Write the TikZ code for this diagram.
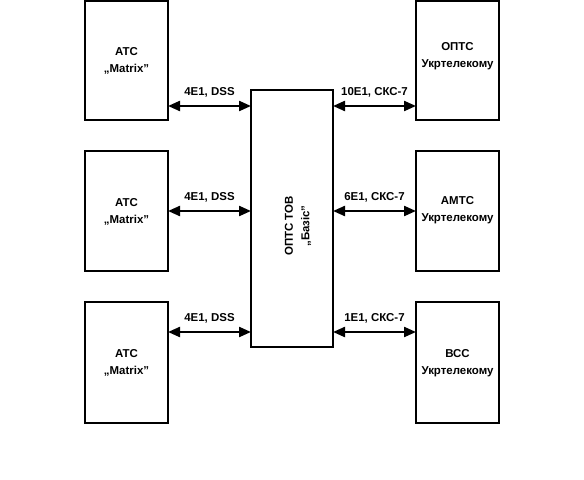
\documentclass[tikz,border=0pt]{standalone}
\usepackage{fontspec}
\setmainfont{Liberation Sans}
\usetikzlibrary{arrows.meta}
\begin{document}
\begin{tikzpicture}[x=1bp,y=-1bp,
  blk/.style={draw, line width=2bp, inner sep=0pt},
  txt/.style={font=\fontsize{11.5}{16.5}\selectfont\bfseries, align=center},
  link/.style={line width=2.2bp, {Triangle[length=12bp,width=10bp]}-{Triangle[length=12bp,width=10bp]}},
  lbl/.style={font=\fontsize{11.5}{13}\selectfont\bfseries, above=4bp}]
\useasboundingbox (0,0) rectangle (584,480);
% left boxes
\draw[blk] (85,1) rectangle (168,120);
\coordinate (L1) at (168,106);
\draw[blk] (85,151) rectangle (168,271);
\coordinate (L2) at (168,211);
\draw[blk] (85,302) rectangle (168,423);
\coordinate (L3) at (168,332);
\node[txt] (t1) at (126.5,61) {АТС\\„Matrix”};
\node[txt] (t2) at (126.5,212) {АТС\\„Matrix”};
\node[txt] (t3) at (126.5,363) {АТС\\„Matrix”};
% right boxes
\draw[blk] (416,1) rectangle (499,120);
\coordinate (R1) at (416,106);
\draw[blk] (416,151) rectangle (499,271);
\coordinate (R2) at (416,211);
\draw[blk] (416,302) rectangle (499,423);
\coordinate (R3) at (416,332);
\node[txt] (u1) at (457.5,56) {ОПТС\\Укртелекому};
\node[txt] (u2) at (457.5,210) {АМТС\\Укртелекому};
\node[txt] (u3) at (457.5,363) {ВСС\\Укртелекому};
% central box
\draw[blk] (251,90) rectangle (333,347);
\coordinate (CL1) at (251,106);
\coordinate (CL2) at (251,211);
\coordinate (CL3) at (251,332);
\coordinate (CR1) at (333,106);
\coordinate (CR2) at (333,211);
\coordinate (CR3) at (333,332);
\node[txt, rotate=90] (c) at (298,226) {ОПТС ТОВ\\„Базіс”};
% links
\draw[link] (L1) -- node[lbl] (a1) {4E1, DSS} (CL1);
\draw[link] (L2) -- node[lbl] (a2) {4E1, DSS} (CL2);
\draw[link] (L3) -- node[lbl] (a3) {4E1, DSS} (CL3);
\draw[link] (CR1) -- node[lbl] (b1) {10E1, СКС-7} (R1);
\draw[link] (CR2) -- node[lbl] (b2) {6E1, СКС-7} (R2);
\draw[link] (CR3) -- node[lbl] (b3) {1E1, СКС-7} (R3);
\end{tikzpicture}
\end{document}
